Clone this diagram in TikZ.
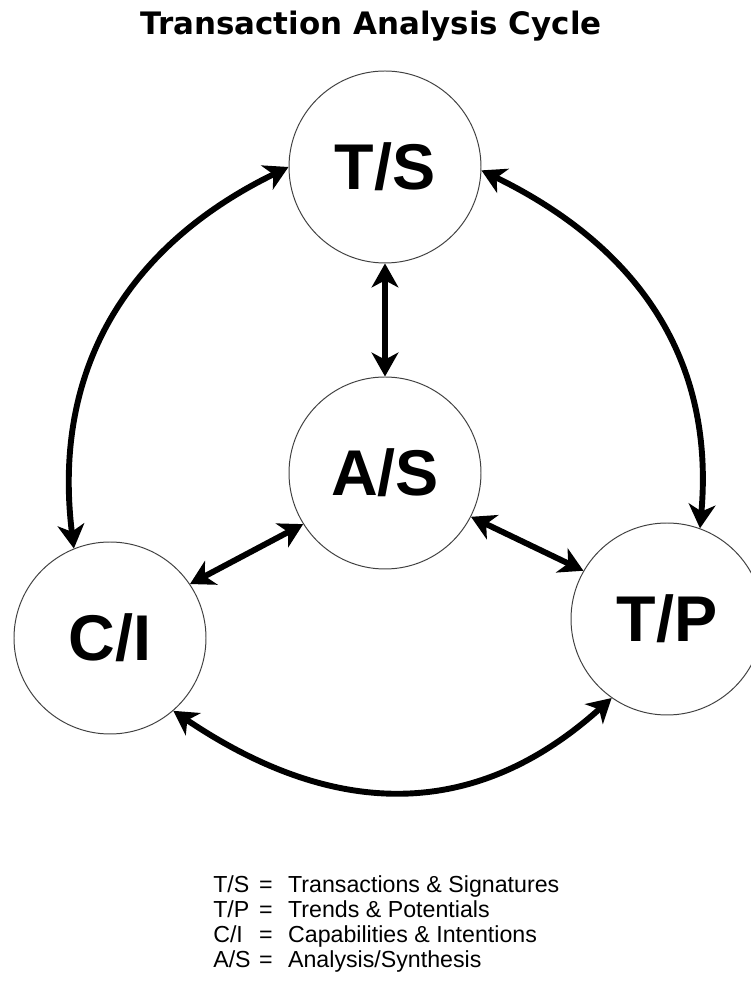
\documentclass[tikz,border=0pt]{standalone}
\usepackage{fontspec}
\setmainfont{Liberation Sans}
\newfontfamily\titlefont{DejaVu Sans}
\usepackage{tikz}
\usetikzlibrary{arrows.meta}
\tikzset{
    >={Stealth[length=17pt,width=19pt,inset=5pt]},
    stage/.style={
        circle,
        draw=black!75, line width=0.7pt,
        minimum size=4.8cm,
        inner sep=0pt,
        font={\fontsize{46pt}{48pt}\selectfont\bfseries}
    },
    link/.style={<->, line width=4.2pt},
}

\begin{document}
\begin{tikzpicture}
\useasboundingbox (0,0) rectangle (18.775,24.7);
\node(title)[anchor=base, font={\titlefont\bfseries\fontsize{22pt}{24pt}\selectfont}] at (9.275, 23.825){Transaction Analysis Cycle};
\node(TS)[stage] at (9.625, 20.525){T/S};
\node(AS)[stage] at (9.625, 12.875){A/S};
\node(CI)[stage] at (2.75, 8.75){C/I};
\node(TP)[stage] at (16.675, 9.225){T/P};
% spokes to the centre
\draw[link] (TS.south) -- (AS.north);
\draw[link] (AS.212) -- (CI.34);
\draw[link] (AS.-27) -- (TP.150);
% outer ring
\draw[link] (TS.180) to[out=206, in=97, looseness=1.05] (CI.112);
\draw[link] (TS.-2) to[out=-26, in=85, looseness=1.05] (TP.70);
\draw[link] (CI.-49) to[out=-34, in=222, looseness=1.1] (TP.-125);
\node(legend)[anchor=base west, inner sep=0pt, font={\fontsize{16.5pt}{17.6pt}\selectfont}] at (5.325, 2.375){%
    \begin{tabular}[t]{@{}l@{\hspace{6pt}}l@{\hspace{11pt}}l@{}}
    T/S & = & Transactions \& Signatures\\
    T/P & = & Trends \& Potentials\\
    C/I & = & Capabilities \& Intentions\\
    A/S & = & Analysis/Synthesis
    \end{tabular}};
\end{tikzpicture}
\end{document}
